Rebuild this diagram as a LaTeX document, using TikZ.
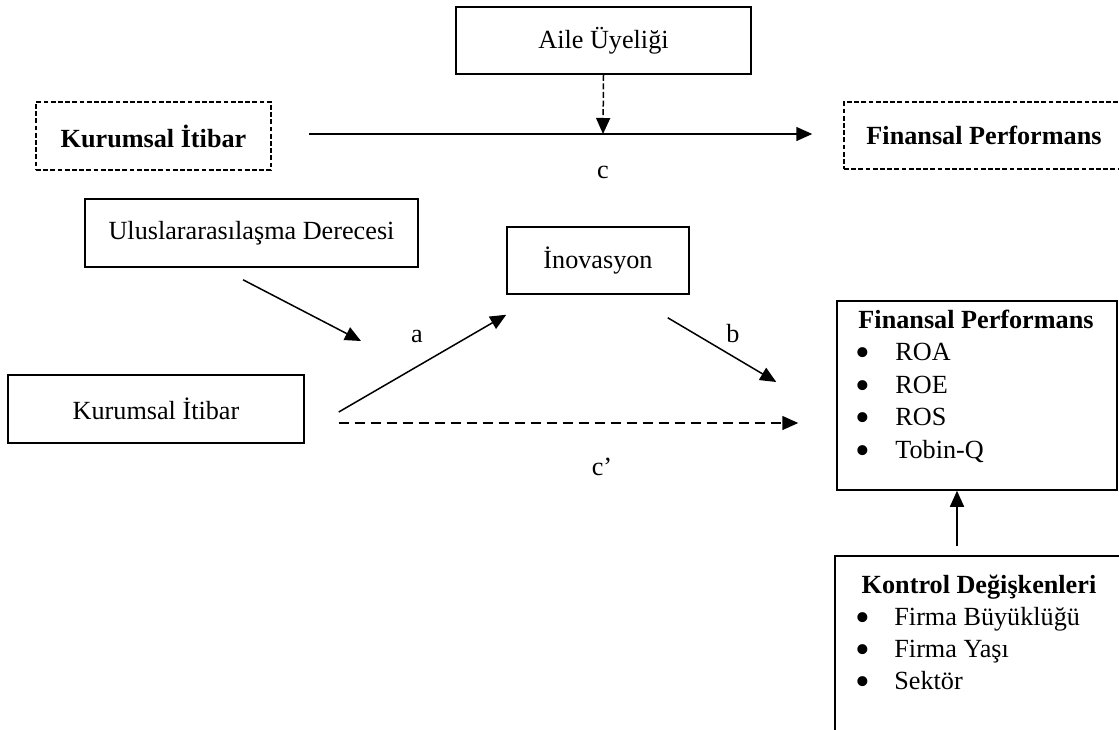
\documentclass[tikz,border=0pt]{standalone}
\usepackage{fontspec}
\setmainfont{Liberation Serif}
\usetikzlibrary{arrows.meta}

\begin{document}
\begin{tikzpicture}[x=0.5pt, y=-0.5pt,
    font=\fontsize{13.1}{15.7}\selectfont,
    box/.style={draw, line width=0.75pt, inner sep=0pt},
    dbox/.style={box, dash pattern=on 2.4pt off 1.2pt, font=\fontsize{13.1}{15.7}\selectfont\bfseries},
    arr/.style={line width=0.75pt, -{Triangle[length=8pt,width=7pt]}},
    item/.style={anchor=base west, inner sep=0pt},
    dot/.style={anchor=base, inner sep=0pt},
    bul/.style={anchor=base, inner sep=0pt, scale=1.6, yshift=-2pt}]
  \useasboundingbox (0,0) rectangle (1119,729);
  \clip (0,0) rectangle (1119,729);

  % upper model
  \node[box, minimum width=147.5pt, minimum height=33.5pt] (aile) at (603.5,40.5) {Aile Üyeliği};
  \node[dbox, minimum width=117.5pt, minimum height=34pt] (kurum1) at (153.5,136) {Kurumsal İtibar};
  \node[dbox, minimum width=140pt, minimum height=33.5pt] (finans1) at (984,135.5) {Finansal Performans};
  \coordinate (mid) at (603,134);
  \draw[arr] ([xshift=18.5pt,yshift=1pt]kurum1.east) -- ([xshift=-15.5pt,yshift=0.75pt]finans1.west);
  \draw[arr, dash pattern=on 3pt off 1.3pt] (aile.south) -- (mid);
  \node (lc) at (603,172) {c};

  % lower model
  \node[box, minimum width=166.5pt, minimum height=34pt] (ulus) at (251.5,233) {Uluslararasılaşma Derecesi};
  \node[box, minimum width=148pt, minimum height=34pt] (kurum2) at (156,409) {Kurumsal İtibar};
  \node[box, minimum width=91pt, minimum height=33.5pt] (inov) at (598,260.5) {İnovasyon};
  \node[box, minimum width=140pt, minimum height=94.5pt] (fp) at (977,395.5) {};
  \node[box, minimum width=145pt, minimum height=102pt] (kontrol) at (980,658) {};
  \coordinate (mod) at (361,341);

  \draw[arr] ([xshift=-4.25pt,yshift=-6pt]ulus.south) -- (mod);
  \draw[arr] ([xshift=17pt,yshift=-1.5pt]kurum2.east) -- ([yshift=-10pt]inov.south west);
  \draw[arr] ([xshift=-11pt,yshift=-11.5pt]inov.south east) -- ([xshift=-30pt,yshift=6.75pt]fp.west);
  \draw[arr, dash pattern=on 5pt off 3pt] ([xshift=17pt,yshift=-7pt]kurum2.east) -- ([xshift=-19pt,yshift=-13.75pt]fp.west);
  \draw[arr] ([xshift=-11.5pt,yshift=4.5pt]kontrol.north) -- ([xshift=-10pt]fp.south);

  \node (la) at (417,336) {a};
  \node (lb) at (733,334) {b};
  \node (lc2) at (602,467) {c’};

  % box contents
  \node[dot, font=\fontsize{13.1}{15.7}\selectfont\bfseries] (fptitle) at (976,328) {Finansal Performans};
  \foreach \t [count=\i] in {ROA,ROE,ROS,Tobin-Q} {
    \node[bul] (fpb\i) at (863,328+32.5*\i) {\textbullet};
    \node[item] (fpi\i) at (895,328+32.5*\i) {\t};
  }
  \node[dot, font=\fontsize{13.1}{15.7}\selectfont\bfseries] (kotitle) at (979,593) {Kontrol Değişkenleri};
  \foreach \t [count=\i] in {Firma Büyüklüğü,Firma Yaşı,Sektör} {
    \node[bul] (kob\i) at (863,593+32*\i) {\textbullet};
    \node[item] (koi\i) at (894,593+32*\i) {\t};
  }
\end{tikzpicture}
\end{document}
